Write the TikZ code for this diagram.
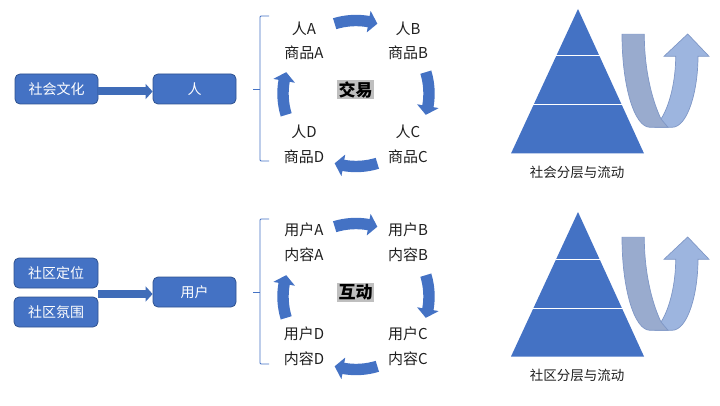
\documentclass[tikz,border=0pt]{standalone}
\usepackage{fontspec}
\setmainfont{Noto Sans CJK SC}
\usepackage{xcolor}
\usepackage{tikz}
\usetikzlibrary{arrows.meta}
\definecolor{mainblue}{HTML}{4472C4}
\definecolor{darkblue}{HTML}{2F528F}
\definecolor{flowblue}{HTML}{3F6CB8}
\definecolor{backband}{HTML}{9DB5DF}
\definecolor{frontband}{HTML}{99ABCE}
\definecolor{bandline}{HTML}{7F97C6}
\tikzset{
	box/.style = {draw=darkblue, fill=mainblue, rounded corners=5pt, line width=0.8pt, text=white, minimum width=83pt, minimum height=30pt, inner sep=0pt, font=\fontsize{14}{16}\selectfont},
	lab/.style = {inner sep=0pt, text=black!88, font=\fontsize{15}{17}\selectfont},
	centerlab/.style = {fill=black!25, minimum width=37pt, minimum height=19pt, inner sep=0pt, font=\fontsize{17}{19}\selectfont\bfseries},
	brace/.style = {draw=mainblue, line width=0.8pt, rounded corners=1pt},
	flow/.style = {draw=flowblue, line width=8pt, -{Triangle[length=7pt,width=15pt]}},
	band/.style = {draw=bandline, line width=0.7pt},
}
\begin{document}
\begin{tikzpicture}[x=1pt,y=1pt]
	\useasboundingbox (0,0) rectangle (720,405);
	% left boxes
	\node[box] (culture) at (56.5,316) {社会文化};
	\node[box] (person) at (194.5,316) {人};
	\node[box, minimum width=84pt] (position) at (56,132) {社区定位};
	\node[box, minimum width=84pt] (climate) at (56,93) {社区氛围};
	\node[box] (user) at (194.5,113) {用户};
	\coordinate (flowa) at ([yshift=-2.5pt]culture.east);
	\coordinate (flowb) at (position.east |- 0,111);
	\draw[flow] (flowa) -- (flowa -| person.west);
	\draw[flow] (flowb) -- (flowb -| user.west);
	% the two rows share braces, cycle arrows and pyramids
	\foreach \dy in {0,-203} {
	\begin{scope}[yshift=\dy pt]
		\draw[brace] (269,389) -- (260,389) -- (260,244) -- (269,244);
		\draw[brace] (253,316) -- (260,316);
		\foreach \a in {0,-90,-180,-270} {
		\fill[mainblue, shift={(356,311.5)}, rotate=\a]
			(107:78.7) arc (107:80:78.7) -- (80:84) -- (73:73) -- (80:62) -- (80:67.3) arc (80:107:67.3) -- cycle;
		}
		\fill[mainblue] (511,251.5) -- (644,251.5) -- (578,396) -- cycle;
		\draw[white, line width=1pt] (556,349) -- (600,349) (533,300) -- (623,300);
		\filldraw[band, fill=backband] (661,286) .. controls (670,300) and (675.7,325) .. (675.7,348.7)
			-- (664,348.7) -- (687.7,371) -- (709,348.7) -- (698,348.7)
			.. controls (698,315) and (688,277.7) .. (672,277.7) -- (655,277.7) -- cycle;
		\filldraw[band, fill=frontband] (622,370.7) -- (644.3,370.7)
			.. controls (644.3,335) and (652,305) .. (661,286) -- (668,277.7) -- (650,277.7)
			.. controls (634,277.7) and (622,320) .. (622,370.7) -- cycle;
	\end{scope}
	}
	% trade cycle
	\node[lab] (personA) at (304,376) {人A};
	\node[lab] (goodsA) at (304,352) {商品A};
	\node[lab] (personB) at (408,376) {人B};
	\node[lab] (goodsB) at (408,352) {商品B};
	\node[lab] (personC) at (408,273) {人C};
	\node[lab] (goodsC) at (408,248) {商品C};
	\node[lab] (personD) at (304,273) {人D};
	\node[lab] (goodsD) at (304,248) {商品D};
	\node[centerlab] (trade) at (355.5,315) {交易};
	% interaction cycle
	\node[lab] (userA) at (304,175) {用户A};
	\node[lab] (contentA) at (304,150) {内容A};
	\node[lab] (userB) at (408,175) {用户B};
	\node[lab] (contentB) at (408,150) {内容B};
	\node[lab] (userC) at (408,71) {用户C};
	\node[lab] (contentC) at (408,46) {内容C};
	\node[lab] (userD) at (304,71) {用户D};
	\node[lab] (contentD) at (304,46) {内容D};
	\node[centerlab] (interact) at (355.5,113) {互动};
	% captions
	\node[lab, font=\fontsize{13.5}{15}\selectfont] (socialflow) at (577,233) {社会分层与流动};
	\node[lab, font=\fontsize{13.5}{15}\selectfont] (communityflow) at (577,30) {社区分层与流动};
\end{tikzpicture}
\end{document}
